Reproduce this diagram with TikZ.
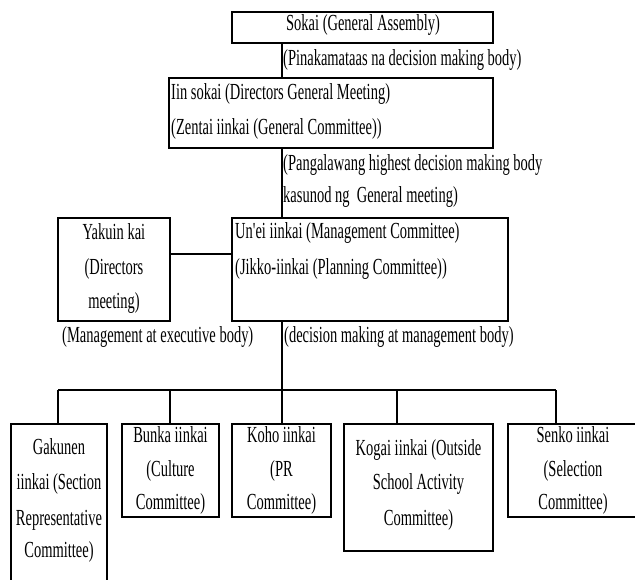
\documentclass[tikz,border=0pt]{standalone}
\usepackage{fontspec}
\newfontfamily\dfont[FakeStretch=0.63]{Liberation Serif}
\begin{document}
\begin{tikzpicture}[x=1pt,y=-1pt,
  box/.style={draw, line width=1.5pt, inner sep=0, rectangle},
  conn/.style={line width=1.5pt},
  txt/.style={font=\dfont\fontsize{23}{23}\selectfont, inner sep=0},
  tl/.style={txt, anchor=mid west},
  tc/.style={txt, anchor=mid}]
\useasboundingbox (0,0) rectangle (635,580);
\clip (0,0) rectangle (635,580);
% boxes
\node[box, minimum width=261pt, minimum height=31pt] (sokai) at (362.5,27.5) {};
\node[box, minimum width=324pt, minimum height=70pt] (iin) at (331,113) {};
\node[box, minimum width=112pt, minimum height=103pt] (yakuin) at (114,269.5) {};
\node[box, minimum width=276pt, minimum height=103pt] (unei) at (370,269.5) {};
\node[box, minimum width=96pt, minimum height=176pt] (gakunen) at (59,512) {};
\node[box, minimum width=97pt, minimum height=93pt] (bunka) at (170.5,470.5) {};
\node[box, minimum width=99pt, minimum height=93pt] (koho) at (281.5,470.5) {};
\node[box, minimum width=149pt, minimum height=127pt] (kogai) at (418.5,487.5) {};
\node[box, minimum width=142pt, minimum height=93pt] (senko) at (579,470.5) {};
% coordinates
\coordinate (trunk) at (282,0);
\coordinate (h1) at (0,254);
\coordinate (bus) at (282,390);
\coordinate (d1) at (58,390);
\coordinate (d2) at (170,390);
\coordinate (d3) at (282,390);
\coordinate (d4) at (397,390);
\coordinate (d5) at (556,390);
% connectors
\draw[conn] (sokai.south -| trunk) -- (iin.north -| trunk);
\draw[conn] (iin.south -| trunk) -- (unei.north -| trunk);
\draw[conn] (yakuin.east |- h1) -- (unei.west |- h1);
\draw[conn] (unei.south -| trunk) -- (bus);
\draw[conn] (d1) -- (d5);
\draw[conn] (d1) -- (gakunen.north -| d1);
\draw[conn] (d2) -- (bunka.north -| d2);
\draw[conn] (d3) -- (koho.north -| d3);
\draw[conn] (d4) -- (kogai.north -| d4);
\draw[conn] (d5) -- (senko.north -| d5);
% texts
\node[tc] (t-sokai) at (363,28) {Sokai (General Assembly)};
\node[tl] (t-l1) at (283,63) {(Pinakamataas na decision making body)};
\node[tl] (t-iin1) at (171,97) {Iin sokai (Directors General Meeting)};
\node[tl] (t-iin2) at (171,132) {(Zentai iinkai (General Committee))};
\node[tl] (t-l2a) at (283,168) {(Pangalawang highest decision making body};
\node[tl] (t-l2b) at (283,200) {kasunod ng\ \ General meeting)};
\node[tc] (t-yak1) at (114,237) {Yakuin kai};
\node[tc] (t-yak2) at (114,272) {(Directors};
\node[tc] (t-yak3) at (114,306) {meeting)};
\node[tl] (t-unei1) at (235,236) {Un'ei iinkai (Management Committee)};
\node[tl] (t-unei2) at (235,272) {(Jikko-iinkai (Planning Committee))};
\node[tl] (t-l3) at (62,340) {(Management at executive body)};
\node[tl] (t-l4) at (284,340) {(decision making at management body)};
\node[tc] (t-gak1) at (59,452) {Gakunen};
\node[tc] (t-gak2) at (59,487) {iinkai (Section};
\node[tc] (t-gak3) at (59,523) {Representative};
\node[tc] (t-gak4) at (59,555) {Committee)};
\node[tc] (t-bun1) at (170.5,440) {Bunka iinkai};
\node[tc] (t-bun2) at (170.5,474) {(Culture};
\node[tc] (t-bun3) at (170.5,507) {Committee)};
\node[tc] (t-koh1) at (281.5,440) {Koho iinkai};
\node[tc] (t-koh2) at (281.5,474) {(PR};
\node[tc] (t-koh3) at (281.5,507) {Committee)};
\node[tc] (t-kog1) at (418.5,453) {Kogai iinkai (Outside};
\node[tc] (t-kog2) at (418.5,487) {School Activity};
\node[tc] (t-kog3) at (418.5,523) {Committee)};
\node[tc] (t-sen1) at (573,440) {Senko iinkai};
\node[tc] (t-sen2) at (573,474) {(Selection};
\node[tc] (t-sen3) at (573,507) {Committee)};
\end{tikzpicture}
\end{document}
